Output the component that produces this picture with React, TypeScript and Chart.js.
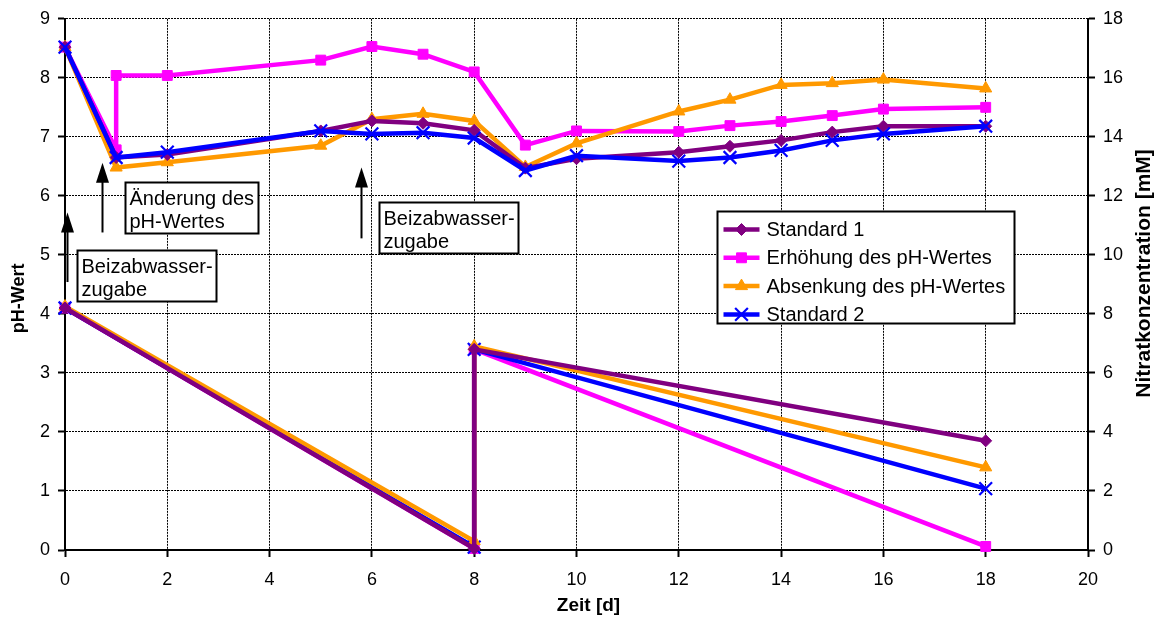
import React, { useEffect, useRef } from 'react';
import { Chart, registerables } from 'chart.js';

Chart.register(...registerables);

// ---- data -------------------------------------------------------------
// Sampling days of the pH measurements
const phDays = [0, 1, 2, 5, 6, 7, 8, 9, 10, 12, 13, 14, 15, 16, 18];
// The "Erhöhung" run was adjusted on day 1, so that day has two readings
const phDaysErhoehung = [0, 1, 1, 2, 5, 6, 7, 8, 9, 10, 12, 13, 14, 15, 16, 18];

const phStandard1 = [8.52, 6.65, 6.7, 7.1, 7.27, 7.23, 7.11, 6.47, 6.63, 6.74, 6.84, 6.94, 7.08, 7.18, 7.18];
const phErhoehung = [8.52, 6.78, 8.04, 8.04, 8.3, 8.53, 8.4, 8.1, 6.86, 7.1, 7.09, 7.19, 7.26, 7.36, 7.47, 7.5];
const phAbsenkung = [8.52, 6.48, 6.57, 6.85, 7.3, 7.39, 7.27, 6.49, 6.89, 7.43, 7.63, 7.88, 7.91, 7.97, 7.82];
const phStandard2 = [8.52, 6.65, 6.74, 7.1, 7.05, 7.07, 6.98, 6.43, 6.68, 6.59, 6.65, 6.77, 6.94, 7.05, 7.18];

// Nitrate concentration [mM]; second dose of pickling wastewater on day 8
const nitratDays = [0, 8, 8, 18];
const nitratStandard1 = [8.2, 0.05, 6.8, 3.7];
const nitratErhoehung = [8.2, 0.05, 6.8, 0.12];
const nitratAbsenkung = [8.25, 0.3, 6.9, 2.8];
const nitratStandard2 = [8.2, 0.1, 6.8, 2.08];

const seriesNames = ['Standard 1', 'Erhöhung des pH-Wertes', 'Absenkung des pH-Wertes', 'Standard 2'];

// Axis ticks
const xTicks = [0, 2, 4, 6, 8, 10, 12, 14, 16, 18, 20];
const phTicks = [0, 1, 2, 3, 4, 5, 6, 7, 8, 9];
const nitratTicks = [0, 2, 4, 6, 8, 10, 12, 14, 16, 18];

const xTitle = 'Zeit [d]';
const phTitle = 'pH-Wert';
const nitratTitle = 'Nitratkonzentration [mM]';

// Call-out notes (text lines)
const noteBeizabwasser = ['Beizabwasser-', 'zugabe'];
const notePh = ['Änderung des', 'pH-Wertes'];

// ---- styling / layout ---------------------------------------------------
const FONT = '"Liberation Sans", Arial, Helvetica, sans-serif';
const W = 1158;
const H = 625;

type Style = { color: string; shape: 'rectRot' | 'rect' | 'triangle' | 'crossRot'; radius: number };
const styles: Style[] = [
  { color: '#800080', shape: 'rectRot', radius: 6 },
  { color: '#FF00FF', shape: 'rect', radius: 7 },
  { color: '#FF9900', shape: 'triangle', radius: 7 },
  { color: '#0000FF', shape: 'crossRot', radius: 9 },
];

// note boxes anchored in data units (x = day, y = pH): left, top
const notes = [
  { lines: noteBeizabwasser, x: 0.23, y: 5.09 },
  { lines: notePh, x: 1.17, y: 6.24 },
  { lines: noteBeizabwasser, x: 6.13, y: 5.89 },
];
// arrows: x, tip y, tail y (data units)
const arrows = [
  { x: 0.035, top: 5.72, bottom: 4.54 },
  { x: 0.72, top: 6.56, bottom: 5.38 },
  { x: 5.78, top: 6.48, bottom: 5.28 },
];
// legend anchor (top-left, data units)
const legendAnchor = { x: 12.74, y: 5.74 };

const toPoints = (days: number[], vals: number[]) => days.map((d, i) => ({ x: d, y: vals[i] }));

function makeDataset(label: string, days: number[], vals: number[], idx: number, axis: string, order: number) {
  const s = styles[idx];
  return {
    label,
    data: toPoints(days, vals),
    yAxisID: axis,
    borderColor: s.color,
    backgroundColor: s.color,
    borderWidth: 4.5,
    pointStyle: s.shape,
    pointRadius: s.radius,
    pointHoverRadius: s.radius,
    pointBackgroundColor: s.color,
    pointBorderColor: s.color,
    pointBorderWidth: s.shape === 'crossRot' ? 2.2 : 1,
    tension: 0,
    clip: false as const,
    order,
  };
}

function drawMarker(ctx: CanvasRenderingContext2D, s: Style, x: number, y: number) {
  const r = s.radius;
  ctx.save();
  ctx.fillStyle = s.color;
  ctx.strokeStyle = s.color;
  ctx.lineWidth = s.shape === 'crossRot' ? 2.2 : 1;
  ctx.beginPath();
  if (s.shape === 'rectRot') {
    ctx.moveTo(x, y - r);
    ctx.lineTo(x + r, y);
    ctx.lineTo(x, y + r);
    ctx.lineTo(x - r, y);
    ctx.closePath();
    ctx.fill();
    ctx.stroke();
  } else if (s.shape === 'rect') {
    const h = r * Math.SQRT1_2;
    ctx.rect(x - h, y - h, 2 * h, 2 * h);
    ctx.fill();
    ctx.stroke();
  } else if (s.shape === 'triangle') {
    const a = (2 * Math.PI) / 3;
    ctx.moveTo(x, y - r);
    ctx.lineTo(x + Math.sin(a) * r, y - Math.cos(a) * r);
    ctx.lineTo(x + Math.sin(2 * a) * r, y - Math.cos(2 * a) * r);
    ctx.closePath();
    ctx.fill();
    ctx.stroke();
  } else {
    const o = r * Math.SQRT1_2;
    ctx.moveTo(x - o, y - o);
    ctx.lineTo(x + o, y + o);
    ctx.moveTo(x + o, y - o);
    ctx.lineTo(x - o, y + o);
    ctx.stroke();
  }
  ctx.restore();
}

const overlayPlugin = {
  id: 'overlay',
  afterDatasetsDraw(chart: any) {
    const { ctx, scales } = chart;
    const xs = scales.x;
    const ys = scales.y;
    ctx.save();

    // arrows
    for (const a of arrows) {
      const px = Math.round(xs.getPixelForValue(a.x)) + 0.5;
      const tip = ys.getPixelForValue(a.top);
      const tail = ys.getPixelForValue(a.bottom);
      ctx.strokeStyle = '#000';
      ctx.fillStyle = '#000';
      ctx.lineWidth = 2;
      ctx.beginPath();
      ctx.moveTo(px, tail);
      ctx.lineTo(px, tip + 16);
      ctx.stroke();
      ctx.beginPath();
      ctx.moveTo(px, tip);
      ctx.lineTo(px + 6.5, tip + 20);
      ctx.lineTo(px - 6.5, tip + 20);
      ctx.closePath();
      ctx.fill();
    }

    // note boxes
    ctx.font = `20px ${FONT}`;
    ctx.textAlign = 'left';
    ctx.textBaseline = 'alphabetic';
    for (const n of notes) {
      const left = Math.round(xs.getPixelForValue(n.x)) + 0.5;
      const top = Math.round(ys.getPixelForValue(n.y)) + 0.5;
      const tw = Math.max(...n.lines.map((l) => ctx.measureText(l).width));
      const bw = Math.round(tw + 8);
      const bh = 51;
      ctx.fillStyle = '#fff';
      ctx.fillRect(left, top, bw, bh);
      ctx.strokeStyle = '#000';
      ctx.lineWidth = 2;
      ctx.strokeRect(left, top, bw, bh);
      ctx.fillStyle = '#000';
      n.lines.forEach((l, i) => ctx.fillText(l, left + 4, top + 22 + i * 23));
    }

    // legend
    {
      const left = Math.round(xs.getPixelForValue(legendAnchor.x)) + 0.5;
      const top = Math.round(ys.getPixelForValue(legendAnchor.y)) + 0.5;
      const tw = Math.max(...seriesNames.map((l) => ctx.measureText(l).width));
      const bw = Math.round(49 + tw + 9);
      const bh = 112;
      ctx.fillStyle = '#fff';
      ctx.fillRect(left, top, bw, bh);
      ctx.strokeStyle = '#000';
      ctx.lineWidth = 2;
      ctx.strokeRect(left, top, bw, bh);
      ctx.textBaseline = 'middle';
      seriesNames.forEach((name, i) => {
        const cy = top + 18 + i * 28.3;
        const s = styles[i];
        ctx.strokeStyle = s.color;
        ctx.lineWidth = 4.5;
        ctx.beginPath();
        ctx.moveTo(left + 6, cy);
        ctx.lineTo(left + 42, cy);
        ctx.stroke();
        drawMarker(ctx, s, left + 24, cy);
        ctx.fillStyle = '#000';
        ctx.fillText(name, left + 49, cy + 1);
      });
    }
    ctx.restore();
  },
  afterDraw(chart: any) {
    const { ctx, chartArea } = chart;
    const midY = (chartArea.top + chartArea.bottom) / 2;
    ctx.save();
    ctx.fillStyle = '#000';
    ctx.textAlign = 'center';
    ctx.textBaseline = 'middle';
    // x title
    ctx.font = `bold 19px ${FONT}`;
    ctx.fillText(xTitle, (chartArea.left + chartArea.right) / 2 + 12, 606);
    // left title
    ctx.font = `bold 18px ${FONT}`;
    ctx.save();
    ctx.translate(19, midY + 14);
    ctx.rotate(-Math.PI / 2);
    ctx.fillText(phTitle, 0, 0);
    ctx.restore();
    // right title (reads bottom to top)
    ctx.font = `bold 21px ${FONT}`;
    ctx.save();
    ctx.translate(1144, midY - 11);
    ctx.rotate(-Math.PI / 2);
    ctx.fillText(nitratTitle, 0, 0);
    ctx.restore();
    ctx.restore();
  },
};

const gridCommon = {
  color: '#000',
  lineWidth: 1,
  tickLength: 7,
  tickColor: '#000',
  tickWidth: 2,
};
const borderCommon = { display: true, color: '#000', width: 2, dash: [2, 1] };
const tickFont = { family: FONT, size: 18 };

export default function App() {
  const ref = useRef<HTMLCanvasElement>(null);

  useEffect(() => {
    const canvas = ref.current;
    if (!canvas) return;

    const datasets = [
      // nitrate (right axis) – drawn above the pH curves
      makeDataset('Nitrat ' + seriesNames[0], nitratDays, nitratStandard1, 0, 'y1', 0),
      makeDataset('Nitrat ' + seriesNames[2], nitratDays, nitratAbsenkung, 2, 'y1', 1),
      makeDataset('Nitrat ' + seriesNames[3], nitratDays, nitratStandard2, 3, 'y1', 2),
      makeDataset('Nitrat ' + seriesNames[1], nitratDays, nitratErhoehung, 1, 'y1', 3),
      // pH (left axis)
      makeDataset(seriesNames[3], phDays, phStandard2, 3, 'y', 4),
      makeDataset(seriesNames[0], phDays, phStandard1, 0, 'y', 5),
      makeDataset(seriesNames[2], phDays, phAbsenkung, 2, 'y', 6),
      makeDataset(seriesNames[1], phDaysErhoehung, phErhoehung, 1, 'y', 7),
    ];

    const chart = new Chart(canvas, {
      type: 'line',
      data: { datasets: datasets as any },
      options: {
        responsive: false,
        animation: false,
        devicePixelRatio: 1,
        layout: { padding: { top: 15, left: 0, right: 0, bottom: 0 } },
        plugins: { legend: { display: false }, tooltip: { enabled: false } },
        scales: {
          x: {
            type: 'linear',
            position: 'bottom',
            min: 0,
            max: 20,
            afterBuildTicks: (s: any) => {
              s.ticks = xTicks.map((v) => ({ value: v }));
            },
            ticks: { color: '#000', font: tickFont, padding: 12, maxRotation: 0 },
            grid: gridCommon,
            border: borderCommon,
            afterFit: (s: any) => {
              s.height = 75;
            },
          },
          y: {
            type: 'linear',
            position: 'left',
            min: 0,
            max: 9,
            afterBuildTicks: (s: any) => {
              s.ticks = phTicks.map((v) => ({ value: v }));
            },
            ticks: { color: '#000', font: tickFont, padding: 8 },
            grid: gridCommon,
            border: borderCommon,
            afterFit: (s: any) => {
              s.width = 65;
            },
          },
          y1: {
            type: 'linear',
            position: 'right',
            min: 0,
            max: 18,
            afterBuildTicks: (s: any) => {
              s.ticks = nitratTicks.map((v) => ({ value: v }));
            },
            ticks: { color: '#000', font: tickFont, padding: 8 },
            grid: { ...gridCommon, drawOnChartArea: false },
            border: borderCommon,
            afterFit: (s: any) => {
              s.width = W - 1088;
            },
          },
        },
      } as any,
      plugins: [overlayPlugin],
    });

    return () => chart.destroy();
  }, []);

  return (
    <div style={{ position: 'fixed', left: 0, top: 0, width: W, height: H, background: '#fff' }}>
      <canvas ref={ref} width={W} height={H} style={{ display: 'block', width: W, height: H }} />
    </div>
  );
}
